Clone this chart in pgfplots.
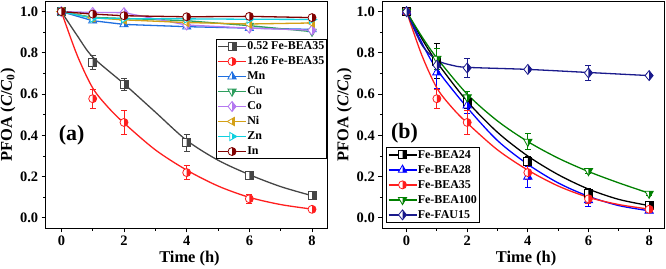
\documentclass[border=0pt]{standalone}
\usepackage{fontspec}
\setmainfont{Liberation Serif}
\usepackage{pgfplots}
\pgfplotsset{compat=1.18}

\definecolor{cgray}{HTML}{454545}
\definecolor{cred}{HTML}{FF1E1E}
\definecolor{cmn}{HTML}{1F6FE0}
\definecolor{ccu}{HTML}{2E9E5E}
\definecolor{cco}{HTML}{B478F0}
\definecolor{cni}{HTML}{D4A017}
\definecolor{czn}{HTML}{10D0E0}
\definecolor{cin}{HTML}{800000}
\definecolor{cblue}{HTML}{0000FF}
\definecolor{cgreen}{HTML}{008000}
\definecolor{cnavy}{HTML}{1A1A8C}

% half-filled markers: left half white, right half in the series colour
\newcommand{\halfmark}[2]{%
  \pgfdeclareplotmark{#1}{%
    \begin{pgfscope}\pgfsetfillcolor{white}#2\pgfusepathqfill\end{pgfscope}%
    \begin{pgfscope}\pgfpathrectangle{\pgfqpoint{0pt}{-1.3\pgfplotmarksize}}{\pgfqpoint{1.3\pgfplotmarksize}{2.6\pgfplotmarksize}}\pgfusepathqclip
      #2\pgfusepathqfill\end{pgfscope}%
    #2\pgfusepathqstroke}}
\halfmark{hsq}{\pgfpathrectangle{\pgfqpoint{-\pgfplotmarksize}{-\pgfplotmarksize}}{\pgfqpoint{2\pgfplotmarksize}{2\pgfplotmarksize}}}
\halfmark{hci}{\pgfpathcircle{\pgfpointorigin}{\pgfplotmarksize}}
\halfmark{htu}{\pgfpathmoveto{\pgfqpoint{0pt}{1.2\pgfplotmarksize}}\pgfpathlineto{\pgfqpoint{-1.04\pgfplotmarksize}{-0.6\pgfplotmarksize}}\pgfpathlineto{\pgfqpoint{1.04\pgfplotmarksize}{-0.6\pgfplotmarksize}}\pgfpathclose}
\halfmark{htd}{\pgfpathmoveto{\pgfqpoint{0pt}{-1.2\pgfplotmarksize}}\pgfpathlineto{\pgfqpoint{-1.04\pgfplotmarksize}{0.6\pgfplotmarksize}}\pgfpathlineto{\pgfqpoint{1.04\pgfplotmarksize}{0.6\pgfplotmarksize}}\pgfpathclose}
\halfmark{htl}{\pgfpathmoveto{\pgfqpoint{-1.2\pgfplotmarksize}{0pt}}\pgfpathlineto{\pgfqpoint{0.6\pgfplotmarksize}{1.04\pgfplotmarksize}}\pgfpathlineto{\pgfqpoint{0.6\pgfplotmarksize}{-1.04\pgfplotmarksize}}\pgfpathclose}
\halfmark{htr}{\pgfpathmoveto{\pgfqpoint{1.2\pgfplotmarksize}{0pt}}\pgfpathlineto{\pgfqpoint{-0.6\pgfplotmarksize}{1.04\pgfplotmarksize}}\pgfpathlineto{\pgfqpoint{-0.6\pgfplotmarksize}{-1.04\pgfplotmarksize}}\pgfpathclose}
\halfmark{hdi}{\pgfpathmoveto{\pgfqpoint{0pt}{1.25\pgfplotmarksize}}\pgfpathlineto{\pgfqpoint{\pgfplotmarksize}{0pt}}\pgfpathlineto{\pgfqpoint{0pt}{-1.25\pgfplotmarksize}}\pgfpathlineto{\pgfqpoint{-\pgfplotmarksize}{0pt}}\pgfpathclose}

\newcommand{\lblfont}{\bfseries\fontsize{16.5}{18}\selectfont}

\pgfplotsset{
  kin/.style={
    scale only axis, width=282bp, height=227bp,
    xmin=-0.5, xmax=8.5, ymin=-0.05, ymax=1.05,
    xtick={0,2,4,6,8}, ytick={0,0.2,0.4,0.6,0.8,1.0},
    minor x tick num=1, minor y tick num=1,
    tick align=outside, xtick pos=bottom, ytick pos=left,
    major tick length=4bp, minor tick length=2.5bp,
    axis line style={line width=1.3bp},
    every tick/.style={line width=1bp, black},
    /pgf/number format/assume math mode=true,
    tick label style={font=\bfseries\fontsize{14.5}{16}\selectfont},
    yticklabel style={/pgf/number format/.cd, fixed, fixed zerofill, precision=1},
    xlabel={Time (h)},
    ylabel={PFOA (\textit{C}/\textit{C}\textsubscript{0})},
    every axis x label/.style={at={(axis description cs:0.51,-0.132)}, anchor=center, font=\lblfont},
    every axis y label/.style={at={(axis description cs:-0.134,0.5)}, rotate=90, anchor=center, font=\lblfont},
    legend style={font=\bfseries\fontsize{12}{12}\selectfont, draw=black, line width=0.8bp,
      inner sep=1.5bp, row sep=3.3bp,
      nodes={inner sep=0.6bp, text height=8.5bp, text depth=2bp}},
    legend cell align=left,
    legend image code/.code={\draw[mark repeat=2,mark phase=2,##1]
      plot coordinates {(0bp,0bp) (14bp,0bp) (28bp,0bp)};},
  },
  fit/.style={line width=1.3bp, smooth, no marks, forget plot},
  pts/.style={only marks, forget plot, mark size=4bp, mark options={line width=0.8bp},
    error bars/y dir=both, error bars/y explicit,
    error bars/error bar style={line width=0.8bp},
    error bars/error mark options={rotate=90, mark size=3bp, line width=0.8bp}},
  ln/.style={line width=1.3bp, mark size=4bp, mark options={line width=0.8bp}, forget plot},
  lg/.style={line width=1.3bp, mark size=4bp, mark options={line width=0.8bp}},
}

\begin{document}
\begin{tikzpicture}
\useasboundingbox (0,0) rectangle (666bp,269bp);

% ---------- (a) metal-doped BEA35 ----------
\begin{axis}[kin, at={(45.7bp,40.7bp)}, anchor=south west,
  legend style={at={(rel axis cs:0.997,0.835)}, anchor=north east}]
\addplot[fit, cgray] coordinates {(0,1) (0.5,0.885) (1,0.78) (2,0.65) (3,0.513) (4,0.376) (5,0.28) (6,0.21) (7,0.152) (8,0.108)};
\addplot[pts, cgray, mark=hsq] coordinates {(0,1) +- (0,0) (1,0.755) +- (0,0.035) (2,0.648) +- (0,0.03) (4,0.365) +- (0,0.04) (6,0.205) +- (0,0.01) (8,0.108) +- (0,0.01)};
\addplot[fit, cred] coordinates {(0,1) (0.5,0.79) (1,0.63) (1.5,0.535) (2,0.46) (3,0.33) (4,0.232) (5,0.155) (6,0.1) (7,0.065) (8,0.043)};
\addplot[pts, cred, mark=hci] coordinates {(0,1) +- (0,0) (1,0.578) +- (0,0.045) (2,0.463) +- (0,0.06) (4,0.22) +- (0,0.035) (6,0.093) +- (0,0.02) (8,0.042) +- (0,0.01)};
\addplot[ln, cmn, mark=htu] coordinates {(0,1) (1,0.956) (2,0.938) (4,0.927) (6,0.92) (8,0.914)};
\addplot[ln, ccu, mark=htd] coordinates {(0,1) (1,0.972) (2,0.967) (4,0.956) (6,0.932) (8,0.903)};
\addplot[ln, cco, mark=hdi] coordinates {(0,1) (1,0.996) (2,0.995) (4,0.935) (6,0.92) (8,0.91)};
\addplot[ln, cni, mark=htl] coordinates {(0,1) (1,0.97) (2,0.96) (4,0.947) (6,0.94) (8,0.945)};
\addplot[ln, czn, mark=htr] coordinates {(0,1) (1,0.968) (2,0.966) (4,0.965) (6,0.963) (8,0.962)};
\addplot[ln, cin, mark=hci] coordinates {(0,1) (1,0.988) (2,0.98) (4,0.975) (6,0.977) (8,0.971)};
\addlegendimage{lg, cgray, mark=hsq}\addlegendentry{0.52 Fe-BEA35}
\addlegendimage{lg, cred, mark=hci}\addlegendentry{1.26 Fe-BEA35}
\addlegendimage{lg, cmn, mark=htu}\addlegendentry{Mn}
\addlegendimage{lg, ccu, mark=htd}\addlegendentry{Cu}
\addlegendimage{lg, cco, mark=hdi}\addlegendentry{Co}
\addlegendimage{lg, cni, mark=htl}\addlegendentry{Ni}
\addlegendimage{lg, czn, mark=htr}\addlegendentry{Zn}
\addlegendimage{lg, cin, mark=hci}\addlegendentry{In}
\node[font=\bfseries\fontsize{22}{24}\selectfont] at (axis cs:0.33,0.40) {(a)};
\end{axis}

% ---------- (b) framework type and Si/Al ratio ----------
\begin{axis}[kin, at={(382.3bp,40.7bp)}, anchor=south west, xmin=-0.8, xmax=8.5,
  legend style={at={(rel axis cs:0.013,0.025)}, anchor=south west}]
\addplot[fit, black] coordinates {(0,1) (0.5,0.87) (1,0.755) (2,0.565) (3,0.415) (4,0.3) (5,0.21) (6,0.14) (7,0.09) (8,0.06)};
\addplot[pts, black, mark=hsq] coordinates {(0,1) +- (0,0) (1,0.76) +- (0,0.085) (2,0.56) +- (0,0.03) (4,0.275) +- (0,0.025) (6,0.12) +- (0,0.025) (8,0.06) +- (0,0.01)};
\addplot[fit, cblue] coordinates {(0,1) (0.5,0.85) (1,0.72) (2,0.535) (3,0.375) (4,0.26) (5,0.17) (6,0.105) (7,0.06) (8,0.035)};
\addplot[pts, cblue, mark=htu] coordinates {(0,1) +- (0,0) (1,0.705) +- (0,0.075) (2,0.545) +- (0,0.04) (4,0.2) +- (0,0.05) (6,0.085) +- (0,0.03) (8,0.035) +- (0,0.01)};
\addplot[fit, cred] coordinates {(0,1) (0.5,0.79) (1,0.63) (1.5,0.535) (2,0.46) (3,0.33) (4,0.232) (5,0.155) (6,0.1) (7,0.065) (8,0.043)};
\addplot[pts, cred, mark=hci] coordinates {(0,1) +- (0,0) (1,0.578) +- (0,0.045) (2,0.463) +- (0,0.06) (4,0.22) +- (0,0.035) (6,0.093) +- (0,0.02) (8,0.042) +- (0,0.01)};
\addplot[fit, cgreen] coordinates {(0,1) (0.5,0.88) (1,0.775) (2,0.6) (3,0.47) (4,0.37) (5,0.29) (6,0.225) (7,0.17) (8,0.12)};
\addplot[pts, cgreen, mark=htd] coordinates {(0,1) +- (0,0) (1,0.772) +- (0,0.05) (2,0.585) +- (0,0.03) (4,0.37) +- (0,0.04) (6,0.228) +- (0,0.01) (8,0.118) +- (0,0.01)};
\addplot[fit, cnavy] coordinates {(0,1) (0.5,0.84) (1,0.765) (1.5,0.74) (2,0.73) (4,0.72) (6,0.705) (8,0.69)};
\addplot[pts, cnavy, mark=hdi] coordinates {(0,1) +- (0,0) (1,0.74) +- (0,0.03) (2,0.727) +- (0,0.045) (4,0.72) +- (0,0.01) (6,0.703) +- (0,0.035) (8,0.69) +- (0,0.01)};
\addlegendimage{lg, black, mark=hsq}\addlegendentry{Fe-BEA24}
\addlegendimage{lg, cblue, mark=htu}\addlegendentry{Fe-BEA28}
\addlegendimage{lg, cred, mark=hci}\addlegendentry{Fe-BEA35}
\addlegendimage{lg, cgreen, mark=htd}\addlegendentry{Fe-BEA100}
\addlegendimage{lg, cnavy, mark=hdi}\addlegendentry{Fe-FAU15}
\node[font=\bfseries\fontsize{22}{24}\selectfont] at (axis cs:-0.07,0.41) {(b)};
\end{axis}
\end{tikzpicture}
\end{document}
